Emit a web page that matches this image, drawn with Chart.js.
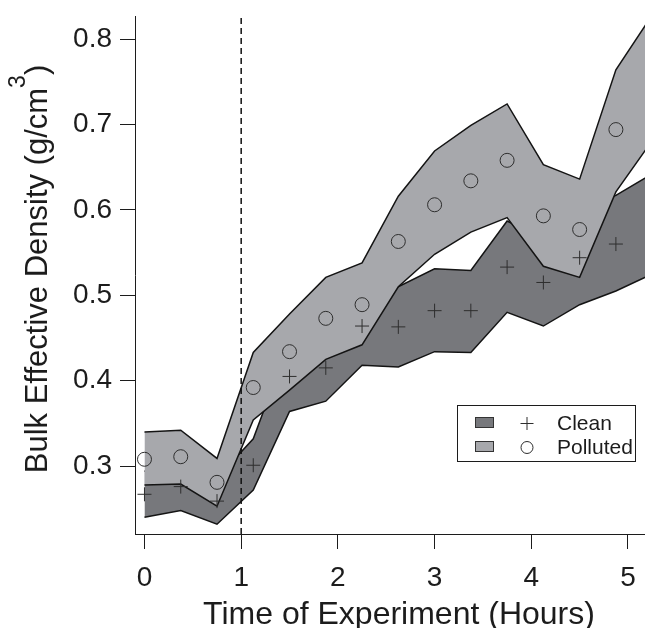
<!DOCTYPE html>
<html><head><meta charset="utf-8">
<script src="https://cdn.jsdelivr.net/npm/chart.js@4"></script>
<style>html,body{margin:0;padding:0;background:#fff}canvas{display:block}</style>
</head><body>
<canvas id="c" width="645" height="628"></canvas>
<script>
// ---- data ----
const hours      = [0, 0.375, 0.75, 1.125, 1.5, 1.875, 2.25, 2.625, 3.0, 3.375, 3.75, 4.125, 4.5, 4.875];
const bandHours  = [0, 0.375, 0.75, 1.125, 1.5, 1.875, 2.25, 2.625, 3.0, 3.375, 3.75, 4.125, 4.5, 4.875, 5.25];
const cleanMid   = [0.267, 0.276, 0.259, 0.301, 0.405, 0.415, 0.464, 0.463, 0.482, 0.482, 0.533, 0.515, 0.544, 0.560];
const cleanUpper = [0.294, 0.304, 0.286, 0.332, 0.446, 0.454, 0.510, 0.510, 0.531, 0.529, 0.587, 0.566, 0.599, 0.617, 0.642];
const cleanLower = [0.240, 0.248, 0.232, 0.272, 0.364, 0.376, 0.418, 0.416, 0.434, 0.433, 0.480, 0.464, 0.489, 0.505, 0.525];
const pollMid    = [0.308, 0.311, 0.281, 0.392, 0.434, 0.473, 0.489, 0.563, 0.606, 0.634, 0.658, 0.593, 0.577, 0.694];
const pollUpper  = [0.340, 0.342, 0.309, 0.433, 0.478, 0.521, 0.538, 0.616, 0.669, 0.699, 0.724, 0.653, 0.636, 0.764, 0.828];
const pollLower  = [0.278, 0.279, 0.253, 0.354, 0.389, 0.425, 0.442, 0.510, 0.548, 0.574, 0.591, 0.534, 0.521, 0.621, 0.681];
const xTicks = [0, 1, 2, 3, 4, 5];
const yTicks = [0.3, 0.4, 0.5, 0.6, 0.7, 0.8];
const xRange = [-0.098, 5.176];
const yRange = [0.2205, 0.827];
const eventHour = 1;
const seriesNames = ['Clean', 'Polluted'];
const xTitle = 'Time of Experiment (Hours)';
const yTitleParts = ['Bulk Effective Density (g/cm', '3', ')'];

// ---- styles ----
const FONT = '"Liberation Sans", Arial, Helvetica, sans-serif';
const INK = '#1c1c1c';
const darkFill = '#77787c';
const lightFill = '#a7a8ac';
const edge = '#141414';
const markColor = '#2e2e2e';

const pts = (xs, ys) => ys.map((y, i) => ({x: xs[i], y}));

const titlesPlugin = {
  id: 'axisTitles',
  afterDraw(chart) {
    const ctx = chart.ctx;
    const area = chart.chartArea;
    ctx.save();
    ctx.fillStyle = INK;
    // x title
    ctx.font = '32px ' + FONT;
    ctx.textAlign = 'center';
    ctx.textBaseline = 'alphabetic';
    ctx.fillText(xTitle, (area.left + area.right) / 2 + 9, 624);
    // y title with superscript
    ctx.font = '31px ' + FONT;
    const w1 = ctx.measureText(yTitleParts[0]).width;
    const w3 = ctx.measureText(yTitleParts[2]).width;
    ctx.font = '23px ' + FONT;
    const w2 = ctx.measureText(yTitleParts[1]).width;
    const total = w1 + w2 + w3;
    const cy = (area.top + area.bottom) / 2 - 6;
    ctx.translate(47, cy + total / 2);
    ctx.rotate(-Math.PI / 2);
    ctx.textAlign = 'left';
    ctx.font = '31px ' + FONT;
    ctx.fillText(yTitleParts[0], 0, 0);
    ctx.font = '23px ' + FONT;
    ctx.fillText(yTitleParts[1], w1, -22);
    ctx.font = '31px ' + FONT;
    ctx.fillText(yTitleParts[2], w1 + w2, 0);
    ctx.restore();
  }
};

const legendPlugin = {
  id: 'boxLegend',
  afterDraw(chart) {
    const ctx = chart.ctx;
    ctx.save();
    const bx = 457.5, by = 405.5, bw = 178, bh = 56;
    ctx.fillStyle = '#fff';
    ctx.fillRect(bx, by, bw, bh);
    ctx.strokeStyle = INK;
    ctx.lineWidth = 1;
    ctx.strokeRect(bx, by, bw, bh);
    const fills = [darkFill, lightFill];
    const styles = ['cross', 'circle'];
    seriesNames.forEach((name, i) => {
      const y = 423 + i * 24;
      ctx.fillStyle = fills[i];
      ctx.fillRect(475.5, y - 5.5, 18, 10);
      ctx.strokeStyle = '#333';
      ctx.lineWidth = 1;
      ctx.strokeRect(475.5, y - 5.5, 18, 10);
      ctx.strokeStyle = markColor;
      ctx.beginPath();
      if (styles[i] === 'cross') {
        ctx.moveTo(520.5, y + 0.5); ctx.lineTo(533.5, y + 0.5);
        ctx.moveTo(527, y - 6); ctx.lineTo(527, y + 7);
      } else {
        ctx.arc(527, y + 0.5, 6, 0, Math.PI * 2);
      }
      ctx.stroke();
      ctx.fillStyle = INK;
      ctx.font = '21px ' + FONT;
      ctx.textAlign = 'left';
      ctx.textBaseline = 'middle';
      ctx.fillText(name, 557, y + 1);
    });
    ctx.restore();
  }
};

const lineDs = (label, data, order, extra) => Object.assign({
  label, data, order,
  borderColor: edge, borderWidth: 1.5, pointRadius: 0, tension: 0, fill: false
}, extra || {});

new Chart(document.getElementById('c'), {
  type: 'line',
  data: {
    datasets: [
      lineDs('event', [{x: eventHour, y: yRange[0]}, {x: eventHour, y: yRange[1]}], 0,
             {borderDash: [6, 4], borderWidth: 1.5, borderColor: '#111'}),
      {label: seriesNames[1], data: pts(hours, pollMid), order: 1, showLine: false,
       pointStyle: 'circle', pointRadius: 7, pointBorderWidth: 1, pointBorderColor: markColor,
       pointBackgroundColor: 'rgba(0,0,0,0)'},
      {label: seriesNames[0], data: pts(hours, cleanMid), order: 2, showLine: false,
       pointStyle: 'cross', pointRadius: 7, pointBorderWidth: 1, pointBorderColor: markColor,
       pointBackgroundColor: 'rgba(0,0,0,0)'},
      lineDs('pollLower', pts(bandHours, pollLower), 3),
      lineDs('pollUpper', pts(bandHours, pollUpper), 4, {fill: 3, backgroundColor: lightFill}),
      lineDs('cleanLower', pts(bandHours, cleanLower), 5),
      lineDs('cleanUpper', pts(bandHours, cleanUpper), 6, {fill: 5, backgroundColor: darkFill})
    ]
  },
  options: {
    responsive: false,
    animation: false,
    devicePixelRatio: 1,
    layout: {autoPadding: false, padding: {top: 16, left: 0, right: 0, bottom: 0}},
    plugins: {legend: {display: false}, tooltip: {enabled: false}},
    scales: {
      x: {
        type: 'linear', min: xRange[0], max: xRange[1],
        afterBuildTicks: s => { s.ticks = xTicks.map(v => ({value: v})); },
        afterFit: s => { s.height = 94; s.paddingLeft = 0; s.paddingRight = 0; },
        ticks: {font: {family: FONT, size: 28}, color: INK, padding: 12,
                callback: v => String(v), maxRotation: 0},
        grid: {drawOnChartArea: false, tickLength: 15, color: INK, tickWidth: 1},
        border: {color: INK, width: 1},
        title: {display: false, text: xTitle}
      },
      y: {
        type: 'linear', min: yRange[0], max: yRange[1],
        afterBuildTicks: s => { s.ticks = yTicks.map(v => ({value: v})); },
        afterFit: s => { s.width = 135; s.paddingTop = 0; s.paddingBottom = 0; },
        ticks: {font: {family: FONT, size: 28}, color: INK, padding: 8,
                callback: v => v.toFixed(1)},
        grid: {drawOnChartArea: false, tickLength: 15, color: INK, tickWidth: 1},
        border: {color: INK, width: 1},
        title: {display: false, text: yTitleParts.join('')}
      }
    }
  },
  plugins: [titlesPlugin, legendPlugin]
});
</script>
</body></html>
